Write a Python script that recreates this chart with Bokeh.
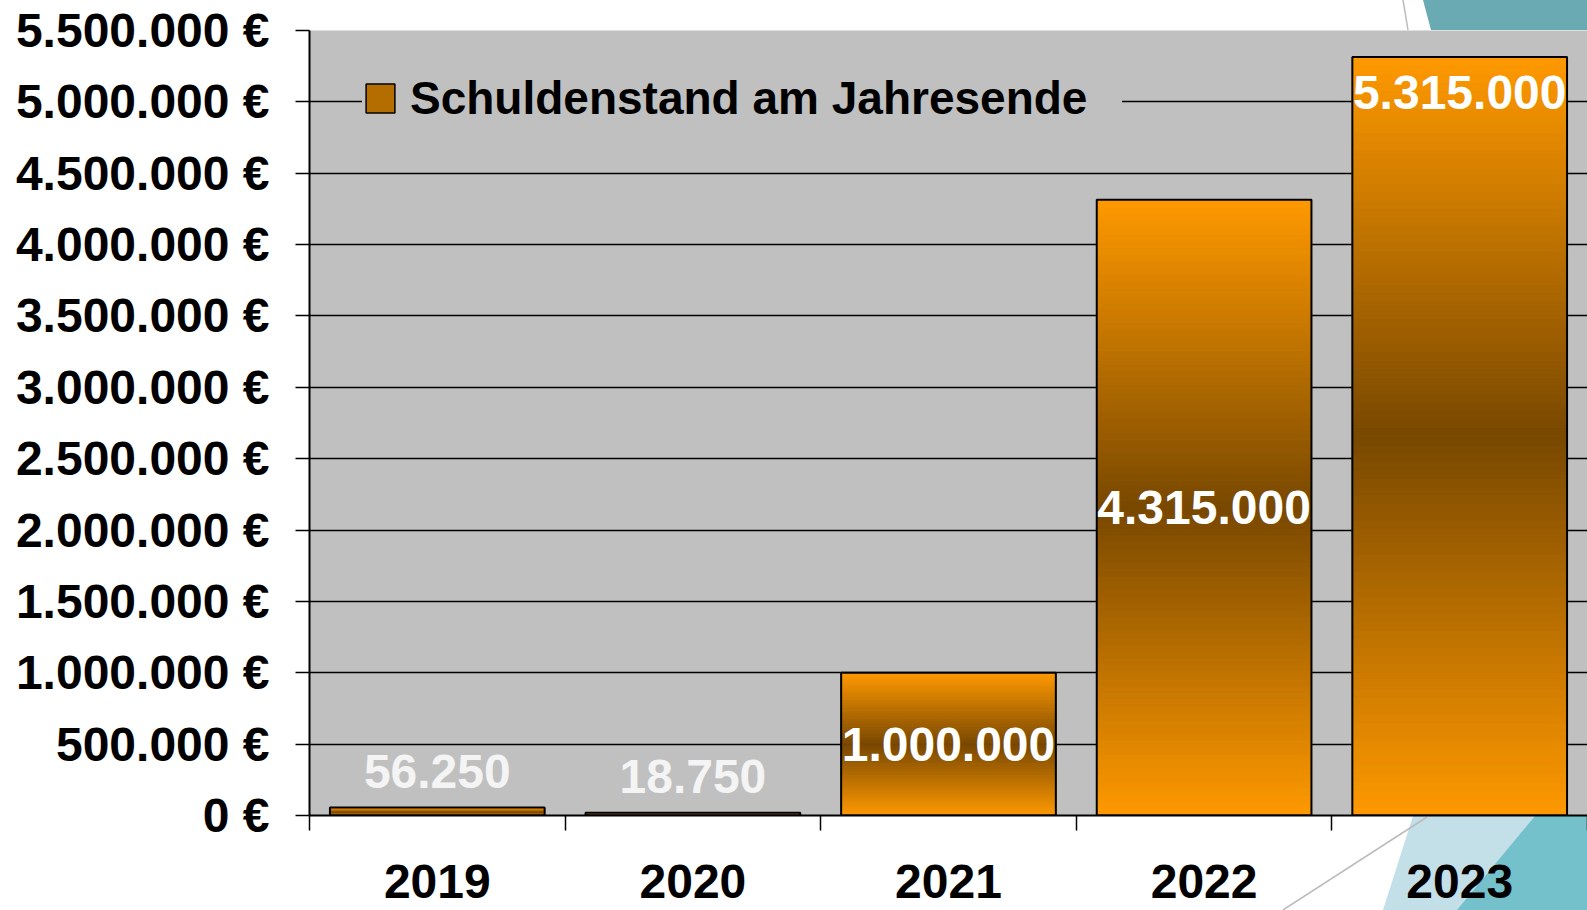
from bokeh.plotting import figure
from bokeh.models import (Range1d, FixedTicker, Legend, LegendItem, LabelSet,
                          ColumnDataSource)
from bokeh.core.properties import value
from bokeh.embed import file_html
from bokeh.resources import INLINE

# ---- data ----
years = ["2019", "2020", "2021", "2022", "2023"]
debt = [56250, 18750, 1000000, 4315000, 5315000]
value_labels = ["56.250", "18.750", "1.000.000", "4.315.000", "5.315.000"]
label_place = ["above", "above", "center", "center", "top"]
y_ticks = list(range(0, 5500001, 500000))
legend_label = "Schuldenstand am Jahresende"

FONT = "Liberation Sans"
ORANGE = (255, 153, 0)
BROWN = (120, 72, 0)

# slide background decoration (pure page styling, behind the transparent border area)
deco_svg = (
    "<svg xmlns='http://www.w3.org/2000/svg' width='1587' height='910'>"
    "<polygon points='1423,0 1587,0 1587,30 1431,30' fill='%236AAAB2'/>"
    "<line x1='1403' y1='0' x2='1408' y2='30' stroke='%23BBBBBB' stroke-width='1.5'/>"
    "<polygon points='1413,816 1587,816 1587,910 1383,910' fill='%23C3DFE8'/>"
    "<polygon points='1535,816 1587,816 1587,910 1457,910' fill='%2374C1CB'/>"
    "<line x1='1283' y1='910' x2='1427' y2='817' stroke='%23BBBBBB' stroke-width='1.5'/>"
    "</svg>"
)

n = len(years)
W, H = 1587, 910
p = figure(width=W, height=H, output_backend="svg", toolbar_location=None,
           x_range=Range1d(0, n), y_range=Range1d(0, y_ticks[-1]),
           min_border_left=309, min_border_right=0, min_border_top=30,
           min_border_bottom=95, background_fill_color="#C0C0C0",
           border_fill_color="white", border_fill_alpha=0.0,
           outline_line_color=None,
           styles={"background-color": "white",
                   "background-image": 'url("data:image/svg+xml;utf8,' + deco_svg + '")',
                   "background-repeat": "no-repeat",
                   "background-position": "0 0"})

# ---- axes ----
centers = [i + 0.5 for i in range(n)]
bounds = list(range(n + 1))
xa = p.xaxis[0]
xa.ticker = FixedTicker(ticks=centers, minor_ticks=bounds)
xa.major_label_overrides = {c: y for c, y in zip(centers, years)}
xa.major_tick_out = 0
xa.major_tick_in = 0
xa.minor_tick_out = 15
xa.minor_tick_in = 0
xa.minor_tick_line_color = "black"
xa.minor_tick_line_width = 1.5
xa.axis_line_color = "black"
xa.axis_line_width = 2
xa.major_label_text_font = FONT
xa.major_label_text_font_style = "bold"
xa.major_label_text_font_size = "48px"
xa.major_label_text_color = "black"
xa.major_label_standoff = 34

ya = p.yaxis[0]
ya.ticker = FixedTicker(ticks=y_ticks)
ya.major_label_overrides = {v: f"{v:,}".replace(",", ".") + " €" for v in y_ticks}
ya.major_tick_out = 14
ya.major_tick_in = 0
ya.minor_tick_out = 0
ya.minor_tick_in = 0
ya.major_tick_line_color = "black"
ya.major_tick_line_width = 1.5
ya.axis_line_color = "black"
ya.axis_line_width = 2
ya.major_label_text_font = FONT
ya.major_label_text_font_style = "bold"
ya.major_label_text_font_size = "48px"
ya.major_label_text_color = "black"
ya.major_label_standoff = 26

p.xgrid.grid_line_color = None
p.ygrid.ticker = FixedTicker(ticks=y_ticks)
p.ygrid.grid_line_color = "black"
p.ygrid.grid_line_width = 1.5

# ---- gradient bars ----
N = 90
half = 0.42
L, R, B, T, C = [], [], [], [], []
for i, v in enumerate(debt):
    for k in range(N):
        t = (k + 0.5) / N
        d = abs(t - 0.5) * 2
        col = tuple(int(round(BROWN[j] + (ORANGE[j] - BROWN[j]) * d)) for j in range(3))
        L.append(centers[i] - half)
        R.append(centers[i] + half)
        B.append(v * k / N)
        T.append(v * (k + 1) / N)
        C.append("#%02x%02x%02x" % col)
p.quad(left=L, right=R, bottom=B, top=T, fill_color=C, line_color=C, line_width=1)
p.quad(left=[c - half for c in centers], right=[c + half for c in centers],
       bottom=[0] * n, top=debt, fill_alpha=0, line_color="black", line_width=2)

# ---- value labels ----
ly, loff, lcol = [], [], []
for v, place in zip(debt, label_place):
    if place == "above":
        ly.append(v); loff.append(36); lcol.append("#F4F4F4")
    elif place == "center":
        ly.append(v / 2); loff.append(0); lcol.append("white")
    else:
        ly.append(v); loff.append(-36); lcol.append("white")
lsrc = ColumnDataSource(dict(x=centers, y=ly, text=value_labels, yoff=loff, color=lcol))
p.add_layout(LabelSet(x="x", y="y", text="text", y_offset="yoff", source=lsrc,
                      text_color="color", text_font=value(FONT),
                      text_font_style="bold", text_font_size="48px",
                      text_align="center", text_baseline="middle"))

# ---- legend (its swatch renderer sits outside the visible x range) ----
leg_r = p.quad(left=[-2], right=[-1], bottom=[0], top=[1], fill_color="#B46E00",
               line_color="black", line_width=1.5)
legend = Legend(items=[LegendItem(label=legend_label, renderers=[leg_r])],
                location=(53, 690), background_fill_color="#C0C0C0",
                background_fill_alpha=1, border_line_color=None,
                label_text_font=FONT, label_text_font_style="bold",
                label_text_font_size="46px", label_text_color="black",
                glyph_width=36, glyph_height=36, label_standoff=12,
                label_width=712, padding=35, margin=0, spacing=0)
p.add_layout(legend)

open("out.html", "w").write(file_html(p, INLINE))
